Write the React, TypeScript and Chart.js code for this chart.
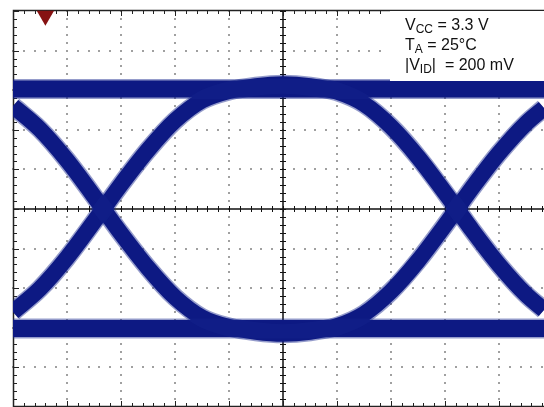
import React, { useEffect, useRef } from "react";
import { Chart, registerables } from "chart.js";

Chart.register(...registerables);

// Time axis in scope divisions (10 div across, view cropped at ~9.83 div)
const pulseTime = [0, 0.5, 1.0, 1.67, 2.0, 2.5, 3.0, 3.5, 4.0, 4.5, 5.0, 5.5, 6.0, 6.5, 7.0, 7.5, 8.22, 8.5, 9.0, 9.5, 9.833];
// "010" trace (rising edge, slight overshoot, falling edge), in vertical divisions
const pulseHigh = [-2.6, -2.01, -1.23, 0, 0.62, 1.49, 2.23, 2.74, 2.98, 3.1, 3.15, 3.1, 2.96, 2.65, 2.08, 1.31, 0, -0.53, -1.41, -2.16, -2.55];
// "101" trace (falling edge, slight undershoot, rising edge)
const pulseLow = [2.6, 2.01, 1.23, 0, -0.62, -1.49, -2.23, -2.74, -2.98, -3.1, -3.15, -3.1, -2.96, -2.65, -2.08, -1.31, 0, 0.53, 1.41, 2.16, 2.55];
// steady levels ("111" and "000")
const levelTime = [0, 9.833];
const levelHigh = [3.03, 3.03];
const levelLow = [-3.02, -3.02];
// trigger marker
const triggerTime = [0.6];
const triggerLevel = [4.88];
// legend lines: [main, subscript, rest]
const legendLines = [
  ["V", "CC", " = 3.3 V"],
  ["T", "A", " = 25°C"],
  ["|V", "ID", "|  = 200 mV"],
];

const TRACE = "#08117c";
const HALO = "rgba(20,35,140,0.45)";

const pts = (xs: number[], ys: number[]) => xs.map((x, i) => ({ x, y: ys[i] }));

const scopePlugin = {
  id: "scope",
  beforeDatasetsDraw(chart: any) {
    const { ctx, chartArea: a, scales } = chart;
    const xs = scales.x;
    const ys = scales.y;
    const X = (v: number) => xs.getPixelForValue(v);
    const Y = (v: number) => ys.getPixelForValue(v);
    ctx.save();
    // dotted grid
    ctx.fillStyle = "#a0a0a0";
    for (let i = 1; i <= 9; i++) {
      if (i === 5) continue;
      const px = Math.round(X(i));
      for (let j = -25; j <= 25; j++) {
        const py = Math.round(Y(j / 5));
        if (py < a.top || py > a.bottom) continue;
        ctx.fillRect(px - 1, py - 1, 2, 2);
      }
    }
    for (let j = -4; j <= 4; j++) {
      if (j === 0) continue;
      const py = Math.round(Y(j));
      for (let i = 0; i <= 50; i++) {
        const px = Math.round(X(i / 5));
        if (px < a.left || px > a.right) continue;
        ctx.fillRect(px - 1, py - 1, 2, 2);
      }
    }
    // center axes
    ctx.strokeStyle = "#111";
    ctx.lineWidth = 1.5;
    const cx = Math.round(X(5));
    const cy = Math.round(Y(0));
    ctx.beginPath();
    ctx.moveTo(cx, a.top);
    ctx.lineTo(cx, a.bottom);
    ctx.moveTo(a.left, cy);
    ctx.lineTo(a.right, cy);
    ctx.stroke();
    ctx.lineWidth = 1;
    ctx.beginPath();
    for (let i = 0; i <= 50; i++) {
      const px = Math.round(X(i / 5)) + 0.5;
      if (px > a.right) continue;
      ctx.moveTo(px, cy - 3);
      ctx.lineTo(px, cy + 3);
    }
    for (let j = -25; j <= 25; j++) {
      const py = Math.round(Y(j / 5)) + 0.5;
      if (py < a.top || py > a.bottom) continue;
      ctx.moveTo(cx - 3, py);
      ctx.lineTo(cx + 3, py);
    }
    ctx.stroke();
    // frame
    ctx.strokeStyle = "#222";
    ctx.lineWidth = 1.5;
    ctx.beginPath();
    ctx.moveTo(a.right, a.top + 0.5);
    ctx.lineTo(a.left + 0.5, a.top + 0.5);
    ctx.lineTo(a.left + 0.5, a.bottom - 0.5);
    ctx.lineTo(a.right, a.bottom - 0.5);
    ctx.stroke();
    ctx.lineWidth = 1;
    ctx.beginPath();
    for (let i = 0; i <= 50; i++) {
      const px = Math.round(X(i / 5)) + 0.5;
      if (px > a.right) continue;
      const len = i % 5 === 0 ? 6 : 4;
      ctx.moveTo(px, a.top);
      ctx.lineTo(px, a.top + len);
      ctx.moveTo(px, a.bottom);
      ctx.lineTo(px, a.bottom - len);
    }
    for (let j = -25; j <= 25; j++) {
      const py = Math.round(Y(j / 5)) + 0.5;
      if (py < a.top || py > a.bottom) continue;
      const len = j % 5 === 0 ? 6 : 4;
      ctx.moveTo(a.left, py);
      ctx.lineTo(a.left + len, py);
    }
    ctx.stroke();
    ctx.restore();
  },
  afterDatasetsDraw(chart: any) {
    const { ctx, chartArea: a } = chart;
    ctx.save();
    ctx.fillStyle = "#fff";
    ctx.fillRect(390, a.top + 1, a.right - 390, 70);
    ctx.fillStyle = "#111";
    ctx.textBaseline = "alphabetic";
    const main = "16px 'Liberation Sans', Arial, sans-serif";
    const sub = "12px 'Liberation Sans', Arial, sans-serif";
    legendLines.forEach((ln, k) => {
      const base = a.top + 20 + k * 20;
      let x = 405;
      ctx.font = main;
      ctx.fillText(ln[0], x, base);
      x += ctx.measureText(ln[0]).width;
      ctx.font = sub;
      ctx.fillText(ln[1], x, base + 3);
      x += ctx.measureText(ln[1]).width;
      ctx.font = main;
      ctx.fillText(ln[2], x, base);
    });
    ctx.restore();
  },
};

export default function App() {
  const ref = useRef<HTMLCanvasElement>(null);
  useEffect(() => {
    if (!ref.current) return;
    const line = (data: any[], w: number, color: string) => ({
      type: "line" as const,
      data,
      borderColor: color,
      borderWidth: w,
      pointRadius: 0,
      fill: false,
      cubicInterpolationMode: "monotone" as const,
      clip: 0,
    });
    const chart = new Chart(ref.current, {
      type: "scatter",
      data: {
        datasets: [
          line(pts(levelTime, levelHigh), 20, HALO),
          line(pts(levelTime, levelLow), 20, HALO),
          line(pts(pulseTime, pulseHigh), 19, HALO),
          line(pts(pulseTime, pulseLow), 19, HALO),
          line(pts(levelTime, levelHigh), 17, TRACE),
          line(pts(levelTime, levelLow), 17, TRACE),
          line(pts(pulseTime, pulseHigh), 16, TRACE),
          line(pts(pulseTime, pulseLow), 16, TRACE),
          {
            type: "scatter" as const,
            data: pts(triggerTime, triggerLevel),
            pointStyle: "triangle",
            rotation: 180,
            pointRadius: 10,
            backgroundColor: "#861212",
            borderColor: "#861212",
            borderWidth: 0,
            clip: 0,
          } as any,
        ],
      },
      options: {
        responsive: false,
        animation: false,
        devicePixelRatio: 1,
        layout: { autoPadding: false, padding: { left: 13, top: 10, right: 0, bottom: 0 } },
        plugins: { legend: { display: false }, tooltip: { enabled: false } },
        events: [],
        scales: {
          x: { type: "linear", display: false, min: 0, max: 9.833 },
          y: { type: "linear", display: false, min: -5, max: 5.025 },
        },
      },
      plugins: [scopePlugin],
    });
    return () => chart.destroy();
  }, []);
  return (
    <div style={{ position: "fixed", left: 0, top: 0, width: 544, height: 407, overflow: "hidden", background: "#fff" }}>
      <canvas ref={ref} width={544} height={407} style={{ display: "block" }} />
    </div>
  );
}
